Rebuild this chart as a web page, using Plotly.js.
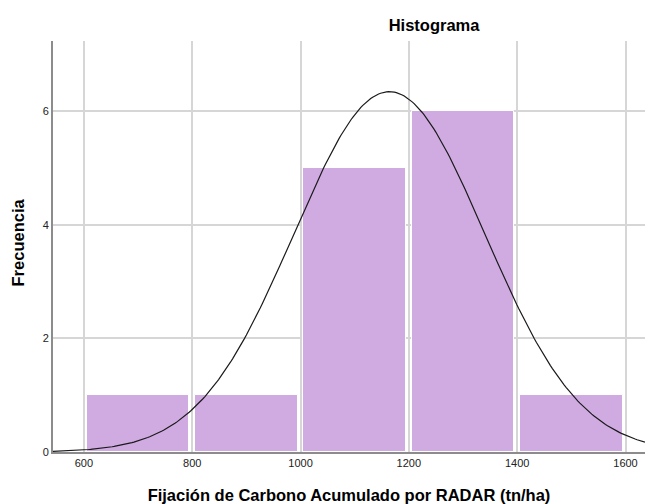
<!DOCTYPE html>
<html>
<head>
<meta charset="utf-8">
<script src="https://cdn.plot.ly/plotly-3.0.1.min.js"></script>
<style>html,body{margin:0;padding:0;background:#fff;}#chart{width:645px;height:504px;}</style>
</head>
<body>
<div id="chart"></div>
<script>
// Histogram bins (tn/ha) and frequencies
const binStarts = [600, 800, 1000, 1200, 1400];
const binWidth = 200;
const frequencies = [1, 1, 5, 6, 1];
const xTickValues = [600, 800, 1000, 1200, 1400, 1600];
const yTickValues = [0, 2, 4, 6];
// Fitted normal curve parameters (SPSS-style overlay)
const curveMean = 1164;
const curveSD = 176;

const N = frequencies.reduce((a, b) => a + b, 0);
const binCenters = binStarts.map(s => s + binWidth / 2);

const xMin = 543, xMax = 1636;
const cx = [], cy = [];
for (let i = 0; i <= 300; i++) {
  const x = xMin + (xMax - xMin) * i / 300;
  const z = (x - curveMean) / curveSD;
  cx.push(x);
  cy.push(N * binWidth * Math.exp(-0.5 * z * z) / (curveSD * Math.sqrt(2 * Math.PI)));
}

const bars = {
  type: 'bar',
  x: binCenters,
  y: frequencies,
  width: binWidth * 0.95,
  marker: {color: '#D0ABE2', line: {color: '#ffffff', width: 1}},
  hoverinfo: 'x+y',
  showlegend: false
};
const curve = {
  type: 'scatter',
  mode: 'lines',
  x: cx,
  y: cy,
  line: {color: '#1a1a1a', width: 1.2},
  hoverinfo: 'skip',
  showlegend: false
};

const titleFont = {family: 'Liberation Sans, Arial, sans-serif', size: 16.5, color: '#000'};

const layout = {
  width: 645,
  height: 504,
  margin: {l: 53, r: 0, t: 41, b: 52},
  paper_bgcolor: '#ffffff',
  plot_bgcolor: '#ffffff',
  font: {family: 'Liberation Sans, Arial, sans-serif', color: '#222', size: 11},
  title: {
    text: '<b>Histograma</b>',
    font: titleFont,
    x: 0.673, xref: 'container', xanchor: 'center',
    y: 0.95, yref: 'container', yanchor: 'middle'
  },
  xaxis: {
    range: [xMin, xMax],
    tickvals: xTickValues,
    ticktext: xTickValues.map(String),
    showgrid: true,
    gridcolor: '#d6d6d6',
    gridwidth: 1.5,
    zeroline: false,
    showline: true,
    linecolor: '#8c8c8c',
    linewidth: 1.5,
    ticks: '',
    tickfont: {size: 11, color: '#222'},
    automargin: false,
    title: {
      text: '<b>Fijación de Carbono Acumulado por RADAR (tn/ha)</b>',
      font: titleFont
    },
    fixedrange: true
  },
  yaxis: {
    range: [0, 7.24],
    tickvals: yTickValues,
    ticktext: yTickValues.map(String),
    showgrid: true,
    gridcolor: '#d6d6d6',
    gridwidth: 1.5,
    zeroline: false,
    showline: true,
    linecolor: '#8c8c8c',
    linewidth: 2,
    ticks: '',
    tickfont: {size: 11, color: '#222'},
    automargin: false,
    fixedrange: true
  },
  annotations: [{
    text: '<b>Frecuencia</b>',
    font: titleFont,
    textangle: -90,
    xref: 'paper', yref: 'paper',
    x: -0.059, y: 0.51,
    xanchor: 'center', yanchor: 'middle',
    showarrow: false
  }],
  bargap: 0
};

Plotly.newPlot('chart', [bars, curve], layout, {displayModeBar: false});
</script>
</body>
</html>
